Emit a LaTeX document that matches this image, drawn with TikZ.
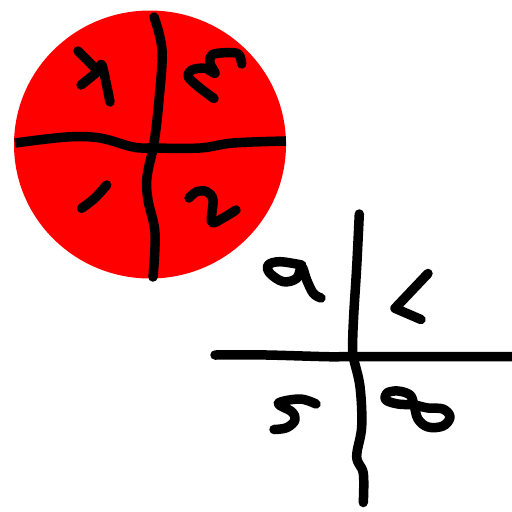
\documentclass[tikz,border=0pt]{standalone}
\usepackage{tikz}
\usetikzlibrary{calc}
\definecolor{discred}{HTML}{FF0000}

\begin{document}
\begin{tikzpicture}[
    x=1pt, y=-1pt,
    ink/.style={draw=black, line width=9.5pt, line cap=round, line join=round},
    disc/.style={fill=discred, draw=none}
]
\useasboundingbox (0,0) rectangle (512,512);

% red disc with its cross
\fill[disc] (150,144.5) ellipse [x radius=136, y radius=134];
\draw[ink] plot[smooth, tension=0.6] coordinates {(154,17) (162,50) (159,100) (154,143) (147,177) (148,200) (155,233) (153,277)};
\draw[ink, line cap=butt] plot[smooth, tension=0.6] coordinates {(15,143) (67,137) (100,138) (133,147) (153,148) (200,148) (233,143) (286,141)};

% digits in the disc
\draw[ink] (78,51) -- (96,69);
\draw[ink] plot[smooth, tension=0.4] coordinates {(81,85) (97,72) (102,65) (110,102)};
\draw[ink] plot[smooth, tension=0.6] coordinates {(241.7,64) (238.3,54) (225,52.7) (211.7,55) (210,63.3) (215,73.3) (205,68.3) (191.7,70) (188.3,76.7) (198.3,86.7) (214,98.5)};
\draw[ink] plot[smooth] coordinates {(81.7,208.3) (95,198) (106.7,185)};
\draw[ink] plot[smooth, tension=0.6] coordinates {(189,198) (196.7,191.7) (206.7,191.7) (213,200) (211.7,222) (223,218) (236,210)};

% second cross
\draw[ink] plot[smooth, tension=0.6] coordinates {(359.3,214) (356.7,266.7) (354,310) (352.7,340) (353.3,356.7) (360,386.7) (361.7,426.7) (356.7,456.7) (363.3,473.3) (363.3,502.5)};
\draw[ink] plot[smooth, tension=0.4] coordinates {(215,355) (266.7,355) (326.7,356.7) (353.3,356.7) (515,356.7)};

% digits round it
\draw[ink] plot[smooth, tension=0.6] coordinates {(301.7,265) (280,261.7) (268.3,265) (270,273.3) (283.3,281.7) (296.7,278.3) (301.7,266.7) (306.7,280) (313.3,293.3) (321,298)};
\draw[ink] (428,273.5) -- (395,308.3) -- (421,319.5);
\draw[ink] plot[smooth, tension=0.6] coordinates {(316,404) (300,399) (278.3,403.3) (291.7,411.7) (295,420) (286.7,427.7) (274,429.5)};
\draw[ink] plot[smooth cycle, tension=0.6] coordinates {(414,405) (410,395) (398,391) (387,393) (386,400) (398,404) (414,405) (428,408) (443,409) (450,417) (443,426) (428,427) (418,419)};
\end{tikzpicture}
\end{document}
